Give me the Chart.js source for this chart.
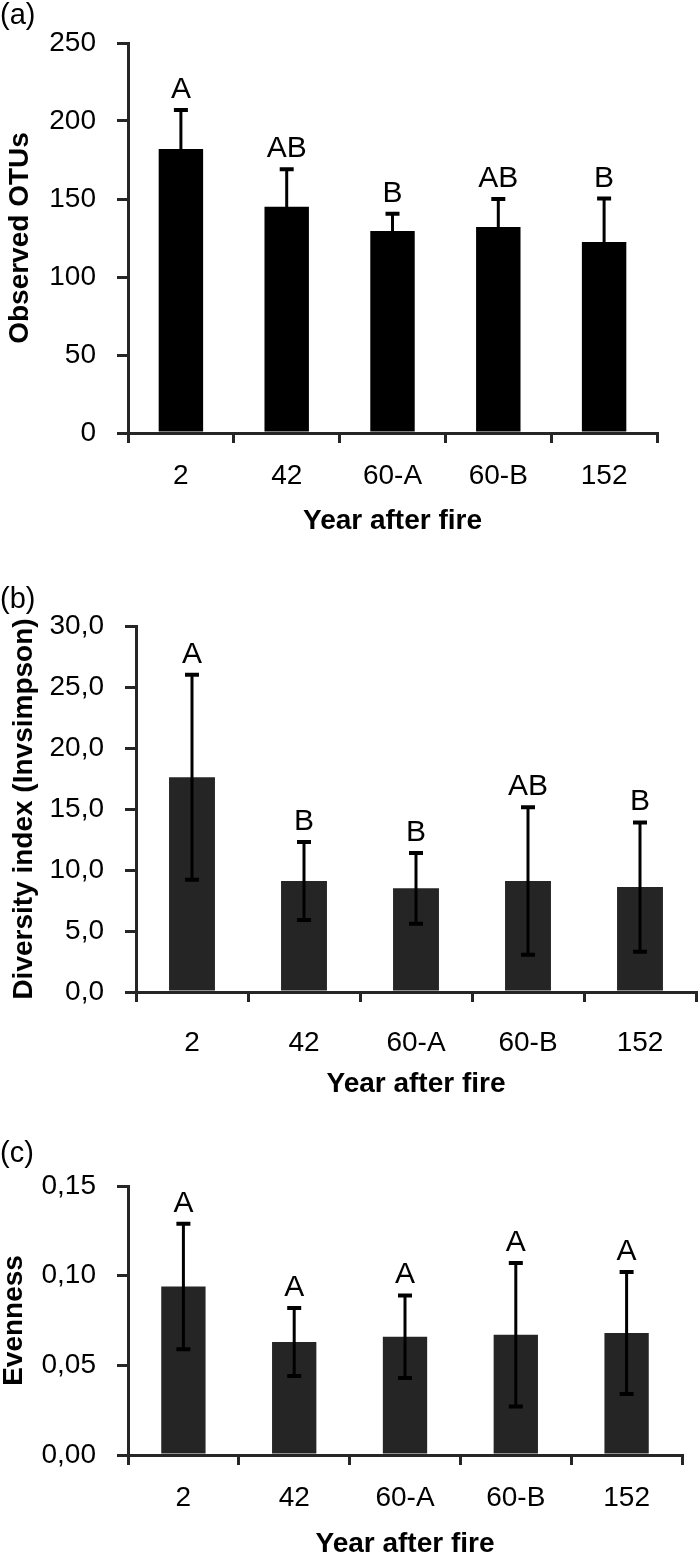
<!DOCTYPE html>
<html>
<head>
<meta charset="utf-8">
<script src="https://cdn.jsdelivr.net/npm/chart.js@4"></script>
<style>
  body { margin: 0; background: #fff; }
  #wrap { position: relative; width: 700px; height: 1558px; }
  canvas { position: absolute; left: 0; }
  .tag { position: absolute; left: 0; font: 29px/29px "Liberation Sans", Arial, sans-serif; color: #000; z-index: 2; }
</style>
</head>
<body>
<div id="wrap">
  <div class="tag" style="top:0px">(a)</div>
  <div class="tag" style="top:584px">(b)</div>
  <div class="tag" style="top:1138px">(c)</div>
  <canvas id="otus" width="700" height="545" style="top:0px"></canvas>
  <canvas id="invsimpson" width="700" height="560" style="top:545px"></canvas>
  <canvas id="evenness" width="700" height="453" style="top:1105px"></canvas>
</div>
<script>
// categories shared by the three panels
var years = ['2', '42', '60-A', '60-B', '152'];

// (a) observed OTUs
var otuMean = [182, 145, 129.5, 132, 122.5];
var otuErr = [25, 24, 11, 18, 27.8];
var otuLetters = ['A', 'AB', 'B', 'AB', 'B'];

// (b) diversity index (Invsimpson)
var invMean = [17.6, 9.1, 8.5, 9.1, 8.6];
var invErr = [8.4, 3.2, 2.9, 6.05, 5.3];
var invLetters = ['A', 'B', 'B', 'AB', 'B'];

// (c) evenness
var evenMean = [0.094, 0.063, 0.066, 0.067, 0.068];
var evenErr = [0.035, 0.019, 0.023, 0.040, 0.034];
var evenLetters = ['A', 'A', 'A', 'A', 'A'];

Chart.defaults.font.family = '"Liberation Sans", Arial, sans-serif';
Chart.defaults.color = '#000';

var axisColor = '#262626';

function makePanel(id, means, errs, letters, o) {
  // error bars and significance letters, placed through the chart's scales
  var errorBars = {
    id: 'errorBars',
    afterDatasetsDraw: function(chart) {
      var ctx = chart.ctx;
      var y = chart.scales.y;
      var bars = chart.getDatasetMeta(0).data;
      ctx.save();
      ctx.strokeStyle = '#000';
      ctx.fillStyle = '#000';
      bars.forEach(function(bar, i) {
        var top = y.getPixelForValue(means[i] + errs[i]);
        var bot = y.getPixelForValue(means[i] - errs[i]);
        ctx.lineWidth = 3;
        ctx.beginPath();
        ctx.moveTo(bar.x, top);
        ctx.lineTo(bar.x, bot);
        ctx.stroke();
        ctx.lineWidth = 4;
        ctx.beginPath();
        ctx.moveTo(bar.x - 7, top); ctx.lineTo(bar.x + 7, top);
        ctx.moveTo(bar.x - 7, bot); ctx.lineTo(bar.x + 7, bot);
        ctx.stroke();
        ctx.font = '30px "Liberation Sans", Arial, sans-serif';
        ctx.textAlign = 'center';
        ctx.textBaseline = 'alphabetic';
        ctx.fillText(letters[i], bar.x, top - 12);
      });
      ctx.restore();
    }
  };

  return new Chart(id, {
    type: 'bar',
    data: {
      labels: years,
      datasets: [{
        data: means,
        backgroundColor: o.barColor,
        borderWidth: 0,
        barPercentage: o.barPct,
        categoryPercentage: 1
      }]
    },
    options: {
      responsive: false,
      animation: false,
      layout: { padding: { top: o.padTop, right: o.padRight, left: 0, bottom: 0 } },
      plugins: { legend: { display: false }, tooltip: { enabled: false } },
      scales: {
        x: {
          afterFit: function(s) { s.height = o.xHeight; },
          grid: { drawOnChartArea: false, tickLength: 10, lineWidth: 3, color: axisColor, offset: true },
          border: { color: axisColor, width: 3 },
          ticks: { font: { size: 28 }, padding: o.xTickPad, color: '#000' },
          title: {
            display: true, text: 'Year after fire', color: '#000',
            font: { size: 28, weight: 'bold', lineHeight: 1 },
            padding: { top: 0, bottom: o.xTitlePad }
          }
        },
        y: {
          min: 0, max: o.max,
          afterFit: function(s) { s.width = o.yWidth; },
          grid: { drawOnChartArea: false, tickLength: 11, lineWidth: 3, color: axisColor },
          border: { color: axisColor, width: 3 },
          ticks: {
            stepSize: o.step, padding: 21, font: { size: 28 }, color: '#000',
            callback: function(v) { return v.toFixed(o.decimals).replace('.', ','); }
          },
          title: {
            display: true, text: o.yTitle, color: '#000',
            font: { size: 28, weight: 'bold', lineHeight: 1 },
            padding: { top: o.yTitlePad, bottom: 0 }
          }
        }
      }
    },
    plugins: [errorBars]
  });
}

makePanel('otus', otuMean, otuErr, otuLetters, {
  barColor: '#000', barPct: 0.42, padTop: 43, padRight: 43,
  xHeight: 112, xTickPad: 16, xTitlePad: 10, yWidth: 128, yTitlePad: 6,
  max: 250, step: 50, decimals: 0, yTitle: 'Observed OTUs'
});

makePanel('invsimpson', invMean, invErr, invLetters, {
  barColor: '#252525', barPct: 0.41, padTop: 81, padRight: 4,
  xHeight: 113, xTickPad: 24, xTitlePad: 7, yWidth: 136, yTitlePad: 10,
  max: 30, step: 5, decimals: 1, yTitle: 'Diversity index (Invsimpson)'
});

makePanel('evenness', evenMean, evenErr, evenLetters, {
  barColor: '#252525', barPct: 0.40, padTop: 81, padRight: 18,
  xHeight: 103, xTickPad: 16, xTitlePad: 0, yWidth: 128, yTitlePad: 0,
  max: 0.15, step: 0.05, decimals: 2, yTitle: 'Evenness'
});
</script>
</body>
</html>
